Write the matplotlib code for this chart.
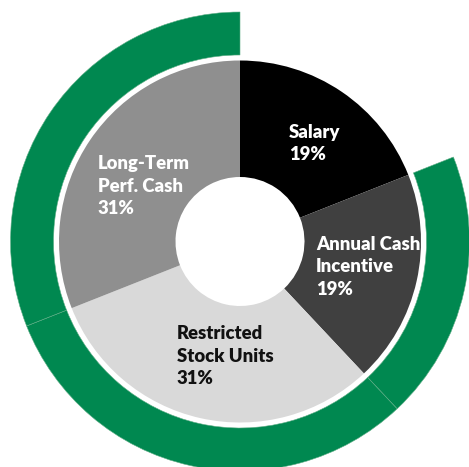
import matplotlib
matplotlib.use("Agg")
import matplotlib.pyplot as plt

# ---- data ----
categories = ["Salary", "Annual Cash\nIncentive", "Restricted\nStock Units", "Long-Term\nPerf. Cash"]
shares = [19, 19, 31, 31]
inner_colors = ["#000000", "#404040", "#D9D9D9", "#8F8F8F"]
outer_visible = [False, True, True, True]
label_colors = ["white", "white", "#111111", "white"]

W, H = 469, 467
fig = plt.figure(figsize=(W / 100, H / 100), dpi=100)
ax = fig.add_axes([0, 0, 1, 1])

cx, cy = 240, H - 241.5
green = "#008850"

# inner doughnut
ax.pie(shares, colors=inner_colors, startangle=90, counterclock=False,
       radius=181, center=(cx, cy), frame=True,
       wedgeprops=dict(width=181 - 64.5, edgecolor="none", linewidth=0))

# outer ring (Salary part left empty)
outer_colors = [green if v else "none" for v in outer_visible]
wedges, _ = ax.pie(shares, colors=outer_colors, startangle=90, counterclock=False,
                   radius=229.5, center=(cx, cy), frame=True,
                   wedgeprops=dict(width=229.5 - 186.5, linewidth=0.4))
for w, v in zip(wedges, outer_visible):
    w.set_edgecolor("#5fae86" if v else "none")

ax.set_xlim(0, W)
ax.set_ylim(0, H)
ax.set_aspect("equal")
ax.axis("off")

# labels (left edge x, vertical centre of text block, in pixels from top)
label_pos = [(289, 143.5), (316, 267), (177, 356), (98, 186)]
for cat, s, (lx, ly), c in zip(categories, shares, label_pos, label_colors):
    ax.text(lx, H - ly, f"{cat}\n{s}%", ha="left", va="center", color=c,
            fontsize=13.3, fontweight="heavy", family=["Lato", "DejaVu Sans"],
            linespacing=1.42)

fig.savefig("out.png", dpi=100)
